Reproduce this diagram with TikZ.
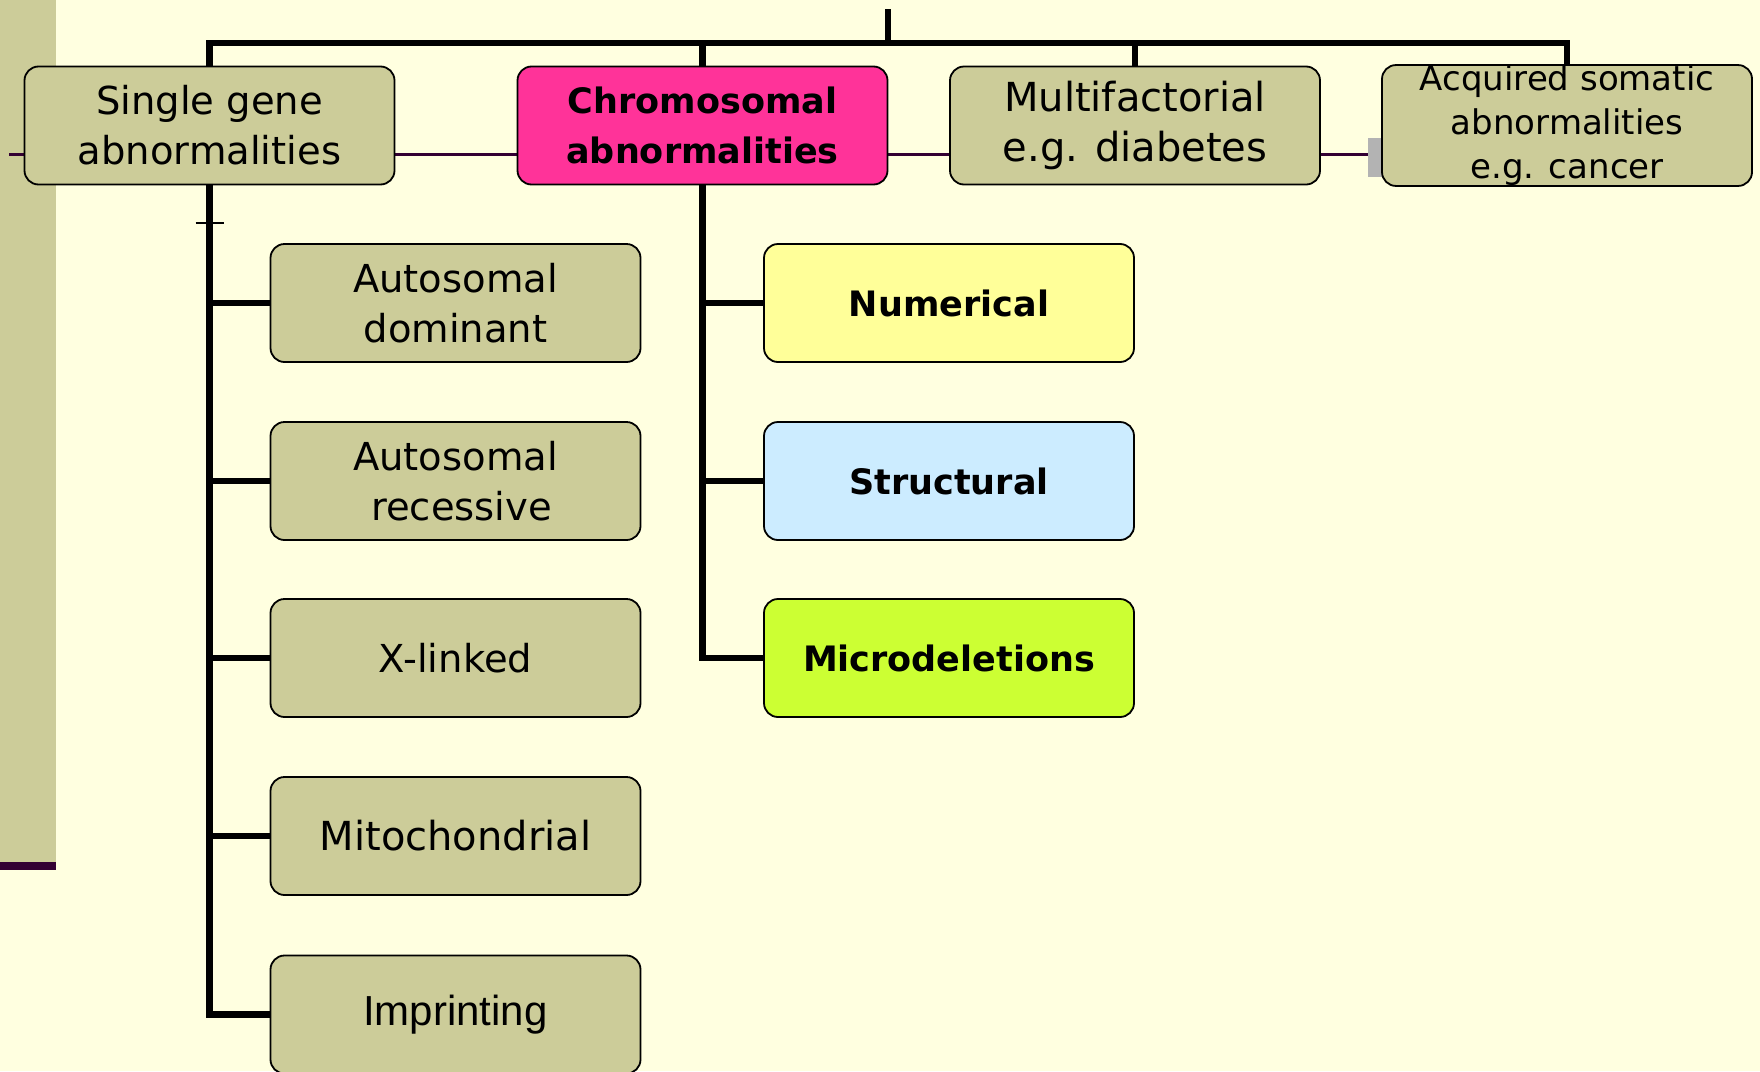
\documentclass[tikz,border=0pt]{standalone}
\usepackage{fontspec}
\setmainfont{DejaVu Sans}
\newfontfamily\arialf{Liberation Sans}
\definecolor{bgc}{HTML}{FFFFE0}
\definecolor{olivec}{HTML}{CCCC99}
\definecolor{pinkc}{HTML}{FF3399}
\definecolor{numc}{HTML}{FFFF99}
\definecolor{strc}{HTML}{CCECFF}
\definecolor{micc}{HTML}{CCFF33}
\definecolor{purpc}{HTML}{330033}
\definecolor{grayc}{HTML}{B3B3B3}
\begin{document}
\begin{tikzpicture}[x=1pt,y=-1pt,
  box/.style={draw=black, line width=1.8pt, rounded corners=14pt,
    minimum width=370pt, minimum height=118pt, align=center, inner sep=0pt,
    fill=olivec, font=\fontsize{38.5}{50}\selectfont},
  boldbox/.style={box, font=\bfseries\fontsize{35}{50}\selectfont},
  conn/.style={line width=6.5pt, black},
  purpline/.style={line width=3pt, purpc}]
\useasboundingbox (0,0) rectangle (1760,1071);
\clip (0,0) rectangle (1760,1071);
\fill[bgc] (0,0) rectangle (1760,1071);
% left strip
\fill[olivec] (0,0) rectangle (56,862);
\fill[purpc] (0,862) rectangle (56,870);
% purple line behind top boxes
\coordinate (pl) at (9,154);
\coordinate (pr) at (1384,154);
\draw[purpline] (pl) -- (pr);
\fill[grayc] (1368,138) rectangle (1386,177);
% top boxes
\node[box] (single) at (209.5,125.5) {Single gene\\abnormalities};
\node[boldbox, fill=pinkc] (chrom) at (702.5,125.5) {Chromosomal\\abnormalities};
\node[box, font=\fontsize{40}{50}\selectfont] (multi) at (1135,125.5) {Multifactorial\\e.g. diabetes};
\node[box, font=\fontsize{34}{44}\selectfont] (acq) at (1567,125.5) {Acquired somatic\\abnormalities\\e.g. cancer};
% sub boxes left
\node[box] (ad) at (455.5,303) {Autosomal\\dominant};
\node[box] (ar) at (455.5,481) {Autosomal\\\ recessive};
\node[box] (xl) at (455.5,658) {X-linked};
\node[box, font=\fontsize{40}{50}\selectfont] (mito) at (455.5,836) {Mitochondrial};
\node[box, font=\arialf\fontsize{42}{50}\selectfont] (imp) at (455.5,1014.5) {Imprinting};
% sub boxes right
\node[boldbox, fill=numc] (num) at (949,303) {Numerical};
\node[boldbox, fill=strc] (str) at (949,481) {Structural};
\node[boldbox, fill=micc] (mic) at (949,658) {Microdeletions};
% top connectors
\coordinate (root) at (888,9);
\coordinate (bar) at (888,43);
\draw[conn] (root) -- (bar);
\draw[conn] (single.north) |- (bar) -| (acq.north);
\draw[conn] (chrom.north) -- (chrom.north |- bar);
\draw[conn] (multi.north) -- (multi.north |- bar);
% left tree
\draw[conn] (single.south) |- (imp.west);
\draw[conn] (ad.west) -- (ad.west -| single.south);
\draw[conn] (ar.west) -- (ar.west -| single.south);
\draw[conn] (xl.west) -- (xl.west -| single.south);
\draw[conn] (mito.west) -- (mito.west -| single.south);
\draw[line width=2pt] ([shift={(-14,38)}]single.south) -- ++(28,0);
% right tree
\draw[conn] (chrom.south) |- (mic.west);
\draw[conn] (num.west) -- (num.west -| chrom.south);
\draw[conn] (str.west) -- (str.west -| chrom.south);
\end{tikzpicture}
\end{document}
